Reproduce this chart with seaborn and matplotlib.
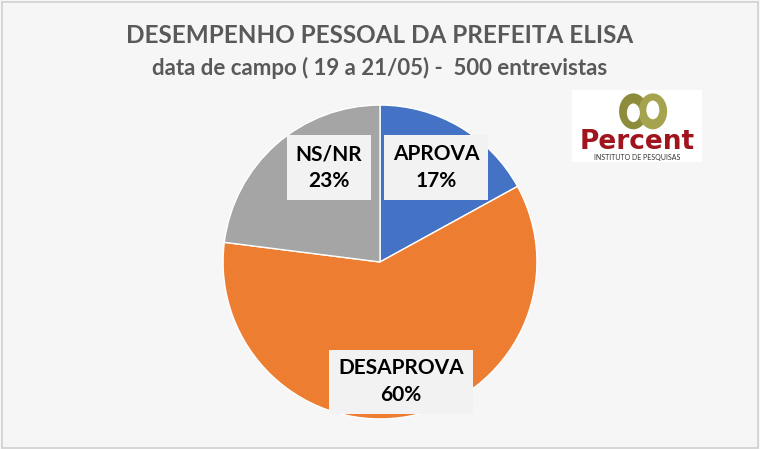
import matplotlib
matplotlib.use("Agg")
import matplotlib.pyplot as plt
import seaborn as sns
from matplotlib.patches import Ellipse, Rectangle

# data
categories = ['APROVA', 'DESAPROVA', 'NS/NR']
values = [17, 60, 23]
colors = ['#4472C4', '#ED7D31', '#A5A5A5']

title = 'DESEMPENHO PESSOAL DA PREFEITA ELISA'
subtitle = 'data de campo ( 19 a 21/05) -  500 entrevistas'

sns.set_theme(style="white")
plt.rcParams['font.family'] = ['Lato', 'DejaVu Sans']

fig = plt.figure(figsize=(7.6, 4.49), dpi=100)
fig.patch.set_facecolor('#F6F6F6')
fig.patches.append(Rectangle((0.002, 0.003), 0.995, 0.993, transform=fig.transFigure,
                             fill=False, edgecolor='#D0D0D0', linewidth=1.2))

fig.text(0.5, 0.922, title, ha='center', va='center', fontsize=17.5, fontweight='bold', color='#595959')
fig.text(0.5, 0.849, subtitle, ha='center', va='center', fontsize=16, fontweight='bold', color='#595959')

# pie
ax = fig.add_axes([0.292, 0.067, 0.416, 0.699])
ax.set_facecolor('none')
wedges, _ = ax.pie(values, colors=colors, startangle=90, counterclock=False,
                   wedgeprops=dict(edgecolor='white', linewidth=1))
ax.set_aspect('equal')
ax.set_xlim(-1.0, 1.0)
ax.set_ylim(-1.0, 1.0)

label_xy = [(0.357, 0.6), (0.134, -0.764), (-0.325, 0.6)]
for cat, val, (x, y) in zip(categories, values, label_xy):
    ax.text(x, y, f'{cat}\n{val}%', ha='center', va='center', fontsize=15,
            fontweight='bold', color='black', linespacing=1.45,
            bbox=dict(boxstyle='square,pad=0.42', facecolor='#F2F2F2', edgecolor='none'))

# logo (approximation)
lax = fig.add_axes([0.753, 0.64, 0.171, 0.16])
lax.set_xlim(0, 1)
lax.set_ylim(0, 1)
lax.axis('off')
lax.add_patch(Rectangle((0, 0), 1, 1, facecolor='white', edgecolor='none'))
lax.add_patch(Ellipse((0.47, 0.7), 0.22, 0.5, facecolor='#8C8C3A', edgecolor='none'))
lax.add_patch(Ellipse((0.62, 0.7), 0.22, 0.5, facecolor='#A6A34E', edgecolor='none'))
lax.add_patch(Ellipse((0.47, 0.68), 0.1, 0.26, facecolor='white', edgecolor='none'))
lax.add_patch(Ellipse((0.62, 0.72), 0.1, 0.26, facecolor='white', edgecolor='none'))
lax.text(0.5, 0.27, 'Percent', ha='center', va='center', fontsize=19, fontweight='bold',
         color='#A0141E', family=['DejaVu Sans'])
lax.text(0.5, 0.06, 'INSTITUTO DE PESQUISAS', ha='center', va='center', fontsize=5,
         color='#333333')

fig.savefig('out.png', dpi=100, facecolor=fig.get_facecolor())
